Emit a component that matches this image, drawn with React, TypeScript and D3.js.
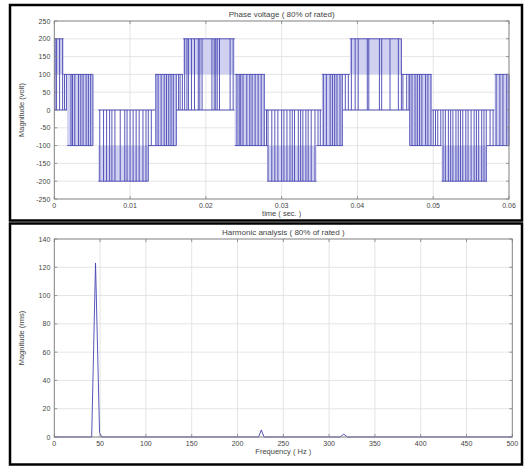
import React from "react";
import * as d3 from "d3";

const W = 525;
const H = 466;

// Phase voltage: switching regions (s), the two levels (V) each region toggles between, and its switching instants (s)
const segStart = [0.0, 0.0012, 0.0017, 0.0058, 0.0124, 0.0133, 0.0161, 0.017, 0.0238, 0.0278, 0.0281, 0.0346, 0.0353, 0.0381, 0.039, 0.0458, 0.0469, 0.0498, 0.0511, 0.0571, 0.0581];
const segEnd = [0.0012, 0.0017, 0.0051, 0.0124, 0.0133, 0.0161, 0.017, 0.0238, 0.0278, 0.0282, 0.0346, 0.0353, 0.0381, 0.039, 0.0458, 0.0469, 0.0498, 0.0511, 0.0571, 0.0581, 0.06];
const segLow = [0, 0, -100, -200, -100, -100, 0, 0, -100, -100, -200, -100, -100, 0, 0, 0, -100, -100, -200, -100, -100];
const segHigh = [200, 100, 100, 0, 0, 100, 100, 200, 100, 0, 0, 0, 100, 100, 200, 100, 100, 0, 0, 0, 100];
const segEdges = [
  [0.0001, 0.0003, 0.0007, 0.0011],
  [0.00135, 0.0016],
  [0.0022, 0.0024, 0.0027, 0.0032, 0.0035, 0.0038, 0.0042, 0.0045, 0.0048, 0.0051],
  [0.006, 0.0065, 0.0069, 0.0073, 0.0076, 0.008, 0.0087, 0.0093, 0.0096, 0.01, 0.0104, 0.0108, 0.0112, 0.0117, 0.0121, 0.0124],
  [0.0128],
  [0.0134, 0.0137, 0.0141, 0.0145, 0.0148, 0.0151, 0.0154, 0.0157, 0.0161],
  [0.0164, 0.0166, 0.0169],
  [0.0172, 0.0175, 0.0177, 0.0181, 0.0185, 0.019, 0.0192, 0.0195, 0.0208, 0.0211, 0.0213, 0.0215, 0.0218, 0.0232, 0.0236],
  [0.0241, 0.0244, 0.0246, 0.0249, 0.0254, 0.0258, 0.0261, 0.0265, 0.0269, 0.0273, 0.0277],
  [0.028],
  [0.0282, 0.0287, 0.0291, 0.0295, 0.03, 0.0303, 0.0307, 0.0311, 0.0314, 0.0317, 0.0322, 0.0325, 0.0328, 0.0332, 0.0335, 0.0339, 0.0344],
  [0.0348, 0.0351],
  [0.0355, 0.0359, 0.0364, 0.0367, 0.037, 0.0373, 0.0377, 0.038],
  [0.0384, 0.0388],
  [0.0392, 0.0397, 0.0401, 0.0413, 0.0415, 0.0429, 0.0432, 0.0443, 0.0454, 0.0458],
  [0.046, 0.0465, 0.0468],
  [0.0469, 0.0472, 0.0476, 0.0479, 0.0482, 0.0485, 0.049, 0.0493, 0.0497],
  [0.05, 0.0503, 0.0506, 0.051],
  [0.0513, 0.0516, 0.052, 0.0523, 0.0526, 0.053, 0.0533, 0.0536, 0.0539, 0.0543, 0.0546, 0.055, 0.0554, 0.0557, 0.056, 0.0564, 0.0567, 0.057],
  [0.0575, 0.0579],
  [0.0583, 0.0588, 0.0592, 0.0597, 0.06],
];

const voltTicks = [-250, -200, -150, -100, -50, 0, 50, 100, 150, 200, 250];
const timeTicks = [0, 0.01, 0.02, 0.03, 0.04, 0.05, 0.06];

// Harmonic spectrum (Hz, rms)
const freqHz = [0, 40.8, 45, 49.4, 52, 223, 226, 229, 312, 316, 320, 500];
const magRms = [0, 0, 123, 3, 0, 0, 5, 0, 0, 2, 0, 0];

const magTicks = [0, 20, 40, 60, 80, 100, 120, 140];
const freqTicks = [0, 50, 100, 150, 200, 250, 300, 350, 400, 450, 500];

const FONT = "'Liberation Sans', Arial, sans-serif";
const LINE = "#4444b2";
const BAND = "#d0d0f0";
const GRID = "#dedede";
const BOX = "#808080";
const TEXT = "#444";

type AxesProps = {
  x: d3.ScaleLinear<number, number>;
  y: d3.ScaleLinear<number, number>;
  xTicks: number[];
  yTicks: number[];
  xFmt: (v: number) => string;
  title: string;
  xLabel: string;
  yLabel: string;
  children?: React.ReactNode;
};

function Axes({ x, y, xTicks, yTicks, xFmt, title, xLabel, yLabel, children }: AxesProps) {
  const [x0, x1] = x.range();
  const [y0, y1] = y.range();
  const tl = 3;
  const cx = (x0 + x1) / 2;
  const cy = (y0 + y1) / 2;
  return (
    <g>
      {xTicks.map((t) => (
        <line key={"gx" + t} x1={x(t)} x2={x(t)} y1={y0} y2={y1} stroke={GRID} strokeWidth={0.8} />
      ))}
      {yTicks.map((t) => (
        <line key={"gy" + t} x1={x0} x2={x1} y1={y(t)} y2={y(t)} stroke={GRID} strokeWidth={0.8} />
      ))}
      {children}
      <rect x={x0} y={y1} width={x1 - x0} height={y0 - y1} fill="none" stroke={BOX} strokeWidth={0.9} />
      {xTicks.map((t) => (
        <g key={"tx" + t}>
          <line x1={x(t)} x2={x(t)} y1={y0} y2={y0 - tl} stroke={BOX} strokeWidth={0.8} />
          <line x1={x(t)} x2={x(t)} y1={y1} y2={y1 + tl} stroke={BOX} strokeWidth={0.8} />
          <text x={x(t)} y={y0 + 9} fontSize={7} fill={TEXT} textAnchor="middle" fontFamily={FONT}>
            {xFmt(t)}
          </text>
        </g>
      ))}
      {yTicks.map((t) => (
        <g key={"ty" + t}>
          <line x1={x0} x2={x0 + tl} y1={y(t)} y2={y(t)} stroke={BOX} strokeWidth={0.8} />
          <line x1={x1} x2={x1 - tl} y1={y(t)} y2={y(t)} stroke={BOX} strokeWidth={0.8} />
          <text x={x0 - 4} y={y(t) + 2.5} fontSize={7} fill={TEXT} textAnchor="end" fontFamily={FONT}>
            {t}
          </text>
        </g>
      ))}
      <text x={cx} y={y1 - 4} fontSize={8} fill={TEXT} textAnchor="middle" fontFamily={FONT}>
        {title}
      </text>
      <text x={cx} y={y0 + 17} fontSize={7.5} fill={TEXT} textAnchor="middle" fontFamily={FONT}>
        {xLabel}
      </text>
      <text
        transform={`translate(${x0 - 30},${cy}) rotate(-90)`}
        fontSize={7.5}
        fill={TEXT}
        textAnchor="middle"
        fontFamily={FONT}
      >
        {yLabel}
      </text>
    </g>
  );
}

export default function App() {
  const xt = d3.scaleLinear().domain([0, 0.06]).range([54.3, 509]);
  const yv = d3.scaleLinear().domain([-250, 250]).range([199, 21]);

  const xf = d3.scaleLinear().domain([0, 500]).range([54.3, 512.3]);
  const ym = d3.scaleLinear().domain([0, 140]).range([437, 239]);

  const spectrum = d3
    .line<number>()
    .x((_, i) => xf(freqHz[i]))
    .y((d) => ym(d))(magRms);

  const bands = segStart.map((s, i) => {
    const lo = segLow[i];
    const hi = segHigh[i];
    // the denser half of a two-step band, or the whole band when it straddles zero
    let fLo = lo;
    let fHi = hi;
    if (hi - lo === 100) {
      fLo = fHi = lo;
    } else if (lo === 0) {
      fLo = 100;
    } else if (hi === 0) {
      fHi = -100;
    }
    return { s, e: segEnd[i], lo, hi, fLo, fHi, edges: segEdges[i] };
  });

  return (
    <svg
      width={W}
      height={H}
      viewBox={`0 0 ${W} ${H}`}
      style={{ position: "absolute", left: 0, top: 0, background: "#fff" }}
    >
      <rect x={0} y={0} width={W} height={H} fill="#fff" />

      <Axes
        x={xt}
        y={yv}
        xTicks={timeTicks}
        yTicks={voltTicks}
        xFmt={(v) => (v === 0 ? "0" : d3.format(".2f")(v))}
        title="Phase voltage ( 80% of rated)"
        xLabel="time ( sec. )"
        yLabel="Magnitude (volt)"
      >
        {bands.map((b, i) => (
          <g key={"b" + i}>
            {b.fHi > b.fLo && (
              <rect
                x={xt(b.s)}
                y={yv(b.fHi)}
                width={xt(b.e) - xt(b.s)}
                height={yv(b.fLo) - yv(b.fHi)}
                fill={BAND}
              />
            )}
            <line x1={xt(b.s)} x2={xt(b.e)} y1={yv(b.hi)} y2={yv(b.hi)} stroke={LINE} strokeWidth={0.9} />
            <line x1={xt(b.s)} x2={xt(b.e)} y1={yv(b.lo)} y2={yv(b.lo)} stroke={LINE} strokeWidth={0.9} />
            {b.edges.map((t, j) => (
              <line key={j} x1={xt(t)} x2={xt(t)} y1={yv(b.hi)} y2={yv(b.lo)} stroke={LINE} strokeWidth={0.9} />
            ))}
          </g>
        ))}
      </Axes>

      <Axes
        x={xf}
        y={ym}
        xTicks={freqTicks}
        yTicks={magTicks}
        xFmt={(v) => String(v)}
        title="Harmonic analysis ( 80% of rated )"
        xLabel="Frequency ( Hz )"
        yLabel="Magnitude (rms)"
      >
        <path d={spectrum ?? ""} fill="none" stroke={LINE} strokeWidth={0.9} />
      </Axes>

      <rect x={10} y={5} width={512} height={215.5} fill="none" stroke="#000" strokeWidth={2.5} />
      <rect x={10} y={223.5} width={512} height={241} fill="none" stroke="#000" strokeWidth={2.5} />
    </svg>
  );
}
